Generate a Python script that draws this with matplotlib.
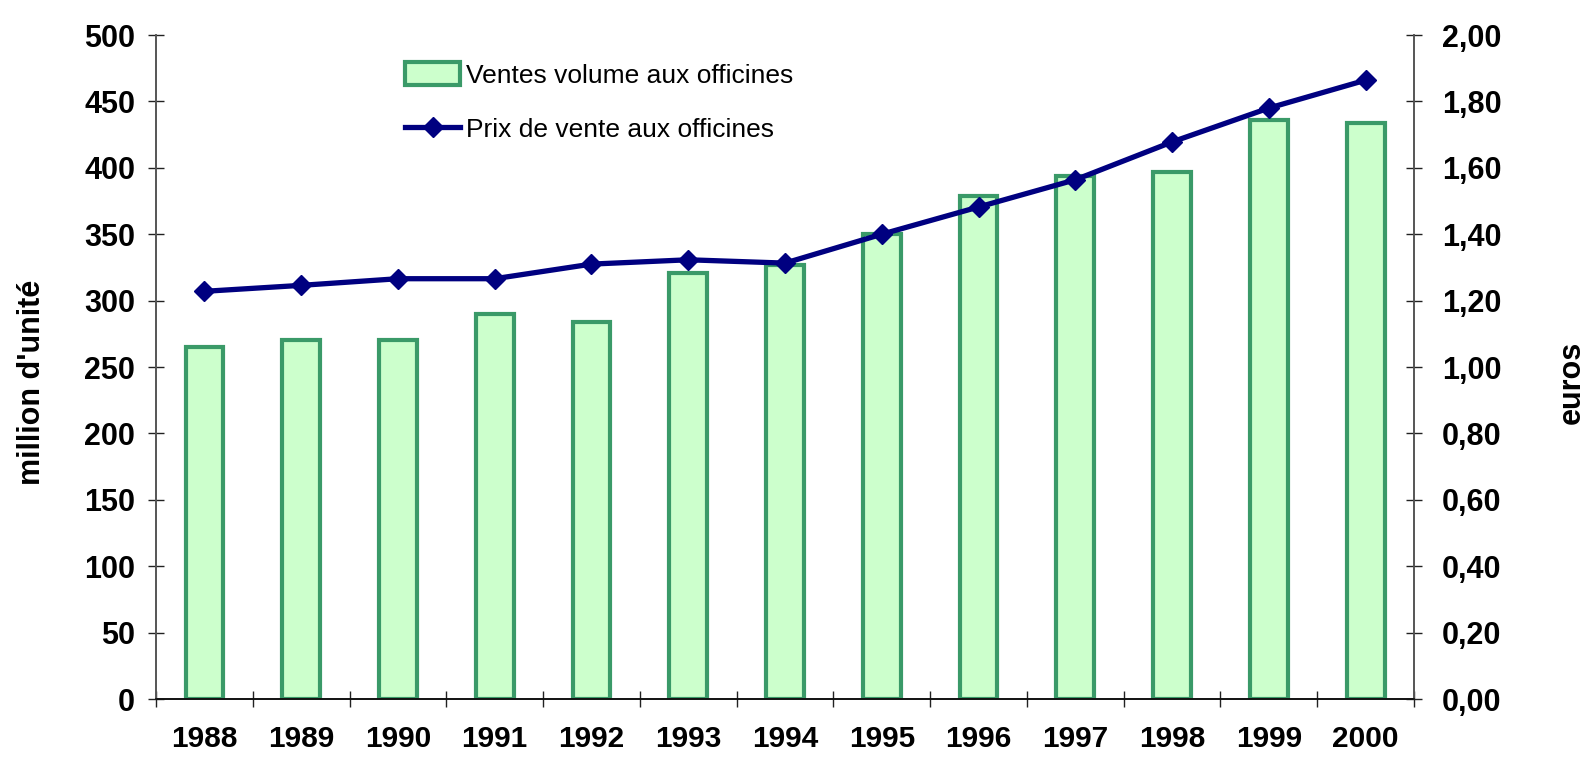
import matplotlib
matplotlib.use("Agg")
import matplotlib.pyplot as plt
import numpy as np
from matplotlib.lines import Line2D
from matplotlib.patches import Patch

years = ["1988", "1989", "1990", "1991", "1992", "1993", "1994",
         "1995", "1996", "1997", "1998", "1999", "2000"]
volume = [265, 270, 270, 290, 284, 321, 327, 350, 379, 394, 397, 436, 434]
price = [1.228, 1.246, 1.266, 1.266, 1.31, 1.323, 1.313,
         1.40, 1.482, 1.564, 1.678, 1.78, 1.864]
left_ticks = list(range(0, 501, 50))
right_ticks = [0.0, 0.2, 0.4, 0.6, 0.8, 1.0, 1.2, 1.4, 1.6, 1.8, 2.0]

plt.rcParams['font.family'] = ['Liberation Sans', 'DejaVu Sans']

BAR_FILL = '#ccffcc'
BAR_EDGE = '#3a9a68'
LINE_COL = '#000080'
AX_COL = '#555555'

fig = plt.figure(figsize=(15.87, 7.58), dpi=100)
ax = fig.add_axes([0.0983, 0.0778, 0.7927, 0.876])
ax2 = ax.twinx()

x = np.arange(len(years))
ax.bar(x, volume, width=0.39, color=BAR_FILL, edgecolor=BAR_EDGE,
       linewidth=3, zorder=2)
ax2.plot(x, price, color=LINE_COL, linewidth=3.8, marker='D',
         markersize=10, markeredgewidth=1, zorder=3)

ax.set_xlim(-0.5, len(years) - 0.5)
ax.set_ylim(0, 500)
ax2.set_ylim(0, 2.0)

ax.set_yticks(left_ticks)
ax.set_yticklabels([str(v) for v in left_ticks], fontsize=22, fontweight='bold')
ax2.set_yticks(right_ticks)
ax2.set_yticklabels([f"{v:.2f}".replace('.', ',') for v in right_ticks],
                    fontsize=22, fontweight='bold')

ax.set_xticks(x)
ax.set_xticklabels(years, fontsize=21.5, fontweight='bold')
ax.tick_params(axis='x', which='major', length=0, pad=19)
ax.set_xticks(np.arange(-0.5, len(years), 1.0), minor=True)
ax.tick_params(axis='x', which='minor', direction='inout', length=12,
               width=1, color='#222222')
ax.tick_params(axis='y', direction='inout', length=12, width=1,
               color='#222222', pad=9)
ax2.tick_params(axis='y', direction='inout', length=12, width=1,
                color='#222222', pad=14)

for a in (ax, ax2):
    a.spines['top'].set_visible(False)
    for s in ('left', 'right'):
        a.spines[s].set_color(AX_COL)
        a.spines[s].set_linewidth(1.2)
    a.spines['bottom'].set_color('#111111')
    a.spines['bottom'].set_linewidth(1.2)

fig.text(32 / 1587, 1 - 382 / 758, "million d'unité", rotation=90,
         ha='center', va='center', fontsize=22, fontweight='bold')
fig.text(1572 / 1587, 1 - 382 / 758, "euros", rotation=90,
         ha='center', va='center', fontsize=22, fontweight='bold')

handles = [Patch(facecolor=BAR_FILL, edgecolor=BAR_EDGE, linewidth=3),
           Line2D([], [], color=LINE_COL, linewidth=3.8, marker='D',
                  markersize=10, markeredgewidth=1)]
labels = ["Ventes volume aux officines", "Prix de vente aux officines"]
ax2.legend(handles, labels, loc='upper left', bbox_to_anchor=(0.179, 0.995),
           frameon=False, fontsize=19, handlelength=2.1, handleheight=0.95,
           handletextpad=0.2, labelspacing=1.1)

fig.savefig("out.png", dpi=100)
